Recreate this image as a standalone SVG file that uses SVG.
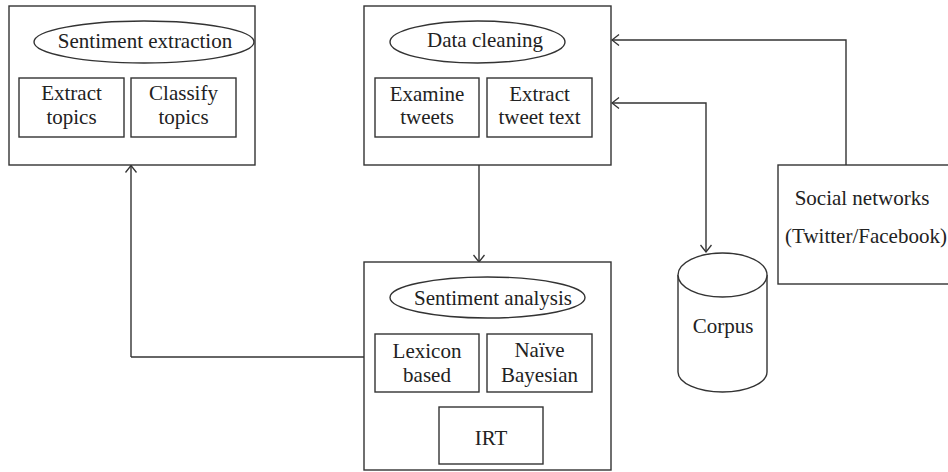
<svg xmlns="http://www.w3.org/2000/svg" width="948" height="472" viewBox="0 0 948 472">
<style>
.b{fill:#fff;stroke:#333;stroke-width:1.4}
.c{fill:none;stroke:#333;stroke-width:1.4}
text{font-family:"Liberation Serif","Times New Roman",serif;font-size:21px;fill:#222;text-anchor:middle}
</style>
<defs>
<marker id="ah" viewBox="0 0 12 12" refX="11" refY="6" markerWidth="12" markerHeight="12" markerUnits="userSpaceOnUse" orient="auto-start-reverse">
<path d="M4,0.5 L11,6 L4,11.5" fill="none" stroke="#333" stroke-width="1.3"/>
</marker>
</defs>
<rect width="948" height="472" fill="#fff"/>
<g id="connectors">
<path class="c" d="M131,357 H364" />
<path class="c" d="M131,357 V165.5" marker-end="url(#ah)"/>
<path class="c" d="M479,165 V262" marker-end="url(#ah)"/>
<path class="c" d="M846,165 V40 H612" marker-end="url(#ah)"/>
<path class="c" d="M612,103 H706 V252" marker-start="url(#ah)" marker-end="url(#ah)"/>
</g>
<g id="sentiment-extraction">
<rect class="b" x="9" y="6" width="246" height="159"/>
<ellipse class="b" cx="144" cy="42" rx="110" ry="21"/>
<text x="145" y="48">Sentiment extraction</text>
<rect class="b" x="19" y="78" width="105" height="59"/>
<text x="71.5" y="100">Extract</text>
<text x="71.5" y="124">topics</text>
<rect class="b" x="131" y="78" width="105" height="59"/>
<text x="183.5" y="100">Classify</text>
<text x="183.5" y="124">topics</text>
</g>
<g id="data-cleaning">
<rect class="b" x="364" y="6" width="247" height="159"/>
<ellipse class="b" cx="477.5" cy="42" rx="87.5" ry="21"/>
<text x="485" y="47">Data cleaning</text>
<rect class="b" x="375" y="78" width="104" height="59"/>
<text x="427" y="101">Examine</text>
<text x="427" y="124">tweets</text>
<rect class="b" x="487" y="78" width="105" height="59"/>
<text x="539.5" y="101">Extract</text>
<text x="539.5" y="124">tweet text</text>
</g>
<g id="sentiment-analysis">
<rect class="b" x="364" y="262" width="247" height="208"/>
<ellipse class="b" cx="487.5" cy="297.5" rx="97.5" ry="20.5"/>
<text x="493" y="305">Sentiment analysis</text>
<rect class="b" x="375" y="334" width="104" height="58"/>
<text x="427" y="358">Lexicon</text>
<text x="427" y="382">based</text>
<rect class="b" x="487" y="334" width="105" height="58"/>
<text x="539.5" y="357">Naïve</text>
<text x="539.5" y="382">Bayesian</text>
<rect class="b" x="439" y="407" width="104" height="57"/>
<text x="491" y="445">IRT</text>
</g>
<g id="corpus">
<path class="b" d="M678,275 V372 A44.5,20 0 0 0 767,372 V275"/>
<ellipse class="b" cx="722.5" cy="275" rx="44.5" ry="22"/>
<text x="723" y="333">Corpus</text>
</g>
<g id="social-networks">
<rect class="b" x="778" y="165" width="172" height="119"/>
<text x="862" y="205">Social networks</text>
<text x="866" y="243">(Twitter/Facebook)</text>
</g>
</svg>
